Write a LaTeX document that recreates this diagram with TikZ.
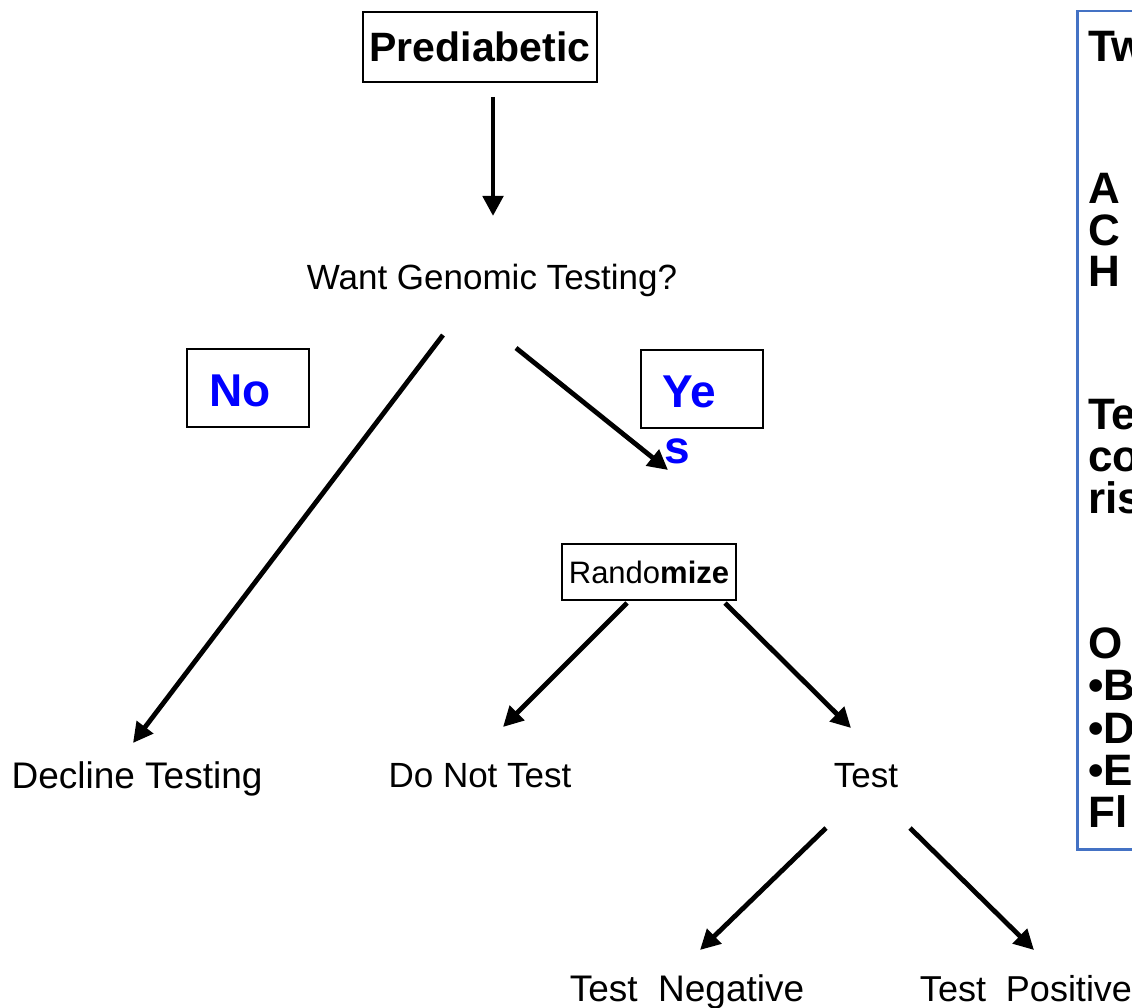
\documentclass[tikz,border=0pt]{standalone}
\usepackage{fontspec}
\setmainfont{Liberation Sans}
\usetikzlibrary{arrows.meta}
\definecolor{noteblue}{RGB}{68,114,196}
\definecolor{labelblue}{RGB}{0,0,255}

\begin{document}
\begin{tikzpicture}[x=1pt,y=-1pt,
  flow/.style={line width=4.8pt,-{Triangle[length=20pt,width=20pt]}},
  framebox/.style={draw,line width=2.4pt,inner sep=0pt},
  lbl/.style={inner sep=0pt,anchor=base,font=\fontsize{35}{42}\selectfont},
  biglbl/.style={lbl,font=\fontsize{37}{44}\selectfont},
  answer/.style={inner sep=0pt,anchor=base west,text=labelblue,font=\fontsize{46}{56}\selectfont\bfseries},
  note/.style={inner sep=0pt,anchor=base west,font=\fontsize{44}{42}\selectfont\bfseries}]
\useasboundingbox[fill=white] (0,0) rectangle (1132,1008);
\clip (0,0) rectangle (1132,1008);

% top of the tree
\node[framebox,minimum width=234pt,minimum height=70pt,
      font=\fontsize{41}{44}\selectfont\bfseries] (pre) at (480,47) {Prediabetic};
\coordinate (preout) at (493,97);
\coordinate (askin) at (493,216);
\draw[flow] (preout) -- (askin);

\node[lbl] (ask) at (492,290) {Want Genomic Testing?};

% answer boxes
\node[framebox,minimum width=122pt,minimum height=78pt] (nobox) at (248,388) {};
\node[answer] (notext) at (209,406) {No};
\node[framebox,minimum width=122pt,minimum height=78pt] (yesbox) at (702,389) {};
\node[answer] (yestop) at (662,407) {Ye};
\node[answer] (yesbot) at (664,463) {s};

% branches from the question
\coordinate (askno) at (443,335);
\coordinate (declin) at (133,743);
\coordinate (askyes) at (516,348);
\coordinate (randin) at (668,470);
\draw[flow] (askno) -- (declin);
\draw[flow] (askyes) -- (randin);

\node[framebox,minimum width=174pt,minimum height=56pt,
      font=\fontsize{31}{36}\selectfont] (rand) at (649,572) {Rando\textbf{mize}};

\coordinate (randl) at (627,603);
\coordinate (notestin) at (503,727);
\coordinate (randr) at (725,603);
\coordinate (testin) at (851,728);
\draw[flow] (randl) -- (notestin);
\draw[flow] (randr) -- (testin);

% outcomes
\node[biglbl] (decline) at (137,788) {Decline Testing};
\node[lbl] (notest) at (480,787) {Do Not Test};
\node[lbl] (test) at (866,787) {Test};

\coordinate (testl) at (826,828);
\coordinate (negin) at (700,950);
\coordinate (testr) at (910,828);
\coordinate (posin) at (1034,950);
\draw[flow] (testl) -- (negin);
\draw[flow] (testr) -- (posin);

\node[biglbl] (neg) at (687,1001) {Test\ \ Negative};
\node[lbl,font=\fontsize{36}{42}\selectfont] (pos) at (1026,1001) {Test\ \ Positive};

% side note panel running off the right edge
\node[draw=noteblue,line width=2.5pt,minimum width=80pt,minimum height=838pt,
      anchor=north west,inner sep=0pt] (panel) at (1076,10) {};
\node[note] (n1) at (1088,62) {Tw};
\node[note] (n2) at (1088,204) {A};
\node[note] (n3) at (1088,246) {C};
\node[note] (n4) at (1088,287) {H};
\node[note] (n5) at (1088,429) {Te};
\node[note] (n6) at (1088,471) {co};
\node[note] (n7) at (1088,513) {ris};
\node[note] (n8) at (1088,658) {O};
\node[note] (n9) at (1088,700) {•B};
\node[note] (n10) at (1088,743) {•D};
\node[note] (n11) at (1088,785) {•E};
\node[note] (n12) at (1088,827) {Fl};
\end{tikzpicture}
\end{document}
